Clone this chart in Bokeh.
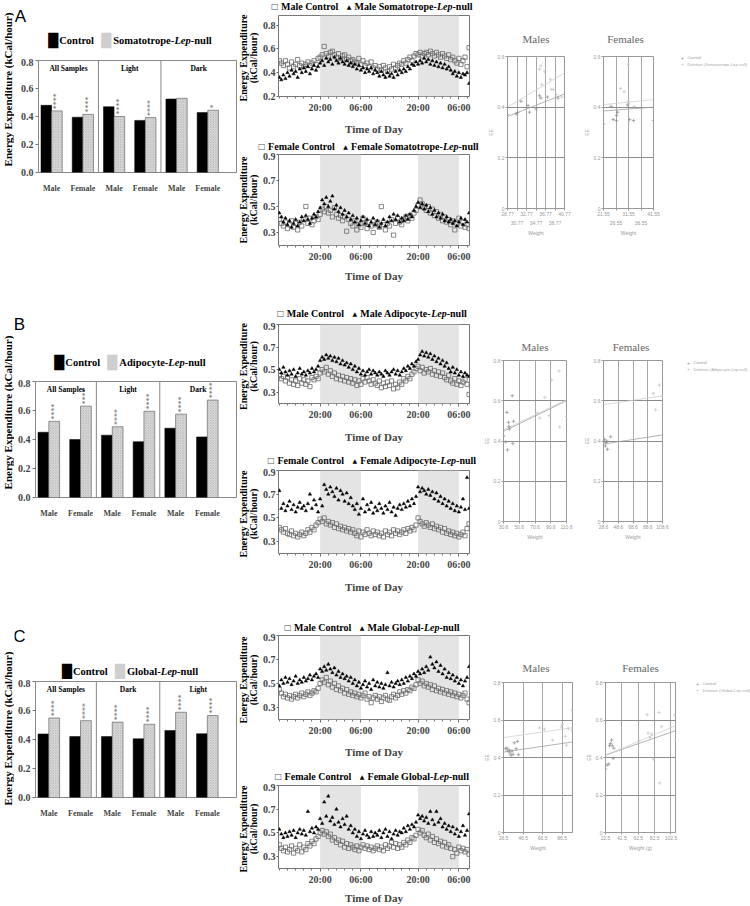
import numpy as np
from bokeh.plotting import figure
from bokeh.models import Label, FixedTicker, BoxAnnotation, Arrow, Range1d, LinearAxis
from bokeh.layouts import row, column
from bokeh.embed import file_html
from bokeh.resources import INLINE
from bokeh.core.properties import value

SERIF = "Liberation Serif"
SANS = "Liberation Sans"
SYM = "DejaVu Sans"

# ======================= DATA =======================
sexes = ["Male", "Female"]
bar_yticks = [0.0, 0.2, 0.4, 0.6, 0.8]
bar_ylabels = ["0.0", "0.2", "0.4", "0.6", "0.8"]

# bar order: [grp1-Male, grp1-Female, grp2-Male, grp2-Female, grp3-Male, grp3-Female]
groups_A = ["All Samples", "Light", "Dark"]
ctrl_A = [0.480, 0.395, 0.470, 0.372, 0.525, 0.428]
null_A = [0.440, 0.415, 0.400, 0.392, 0.530, 0.445]
stars_A = ["****", "****", "****", "****", "", "*"]

groups_B = ["All Samples", "Light", "Dark"]
ctrl_B = [0.450, 0.400, 0.430, 0.385, 0.478, 0.418]
null_B = [0.525, 0.630, 0.488, 0.595, 0.575, 0.672]
stars_B = ["****", "****", "****", "****", "****", "****"]

groups_C = ["All Samples", "Dark", "Light"]
ctrl_C = [0.438, 0.420, 0.420, 0.405, 0.462, 0.440]
null_C = [0.548, 0.530, 0.520, 0.505, 0.588, 0.565]
stars_C = ["****", "****", "****", "****", "****", "****"]

strain_A = "Somatotrope-"
strain_B = "Adipocyte-"
strain_C = "Global-"

# time axis (hours since midnight of day 1), half-hour bins from 10:00
time_ticks = [20, 30, 44, 54]
time_labels = ["20:00", "06:00", "20:00", "06:00"]
dark_periods = [(20, 30), (44, 54)]
ts_yticks_A1 = [0.2, 0.4, 0.6, 0.8]
ts_ylabels_A1 = ["0.2", "0.4", "0.6", "0.8"]
ts_yticks = [0.3, 0.5, 0.7, 0.9]
ts_ylabels = ["0.3", "0.5", "0.7", "0.9"]

A_male_ctrl = [0.50, 0.48, 0.46, 0.50, 0.47, 0.44, 0.49, 0.45, 0.47, 0.51, 0.46, 0.48,
               0.45, 0.47, 0.49, 0.46, 0.48, 0.50, 0.47, 0.52, 0.53, 0.55, 0.62, 0.56,
               0.54, 0.57, 0.58, 0.55, 0.53, 0.56, 0.52, 0.54, 0.55, 0.51, 0.53, 0.50,
               0.51, 0.49, 0.48, 0.52, 0.47, 0.50, 0.46, 0.48, 0.45, 0.49, 0.44, 0.46,
               0.43, 0.45, 0.42, 0.46, 0.44, 0.41, 0.45, 0.43, 0.47, 0.44, 0.46, 0.48,
               0.47, 0.50, 0.48, 0.51, 0.53, 0.50, 0.54, 0.56, 0.55, 0.57, 0.54, 0.56,
               0.57, 0.55, 0.58, 0.56, 0.54, 0.57, 0.55, 0.53, 0.56, 0.54, 0.52, 0.55,
               0.51, 0.53, 0.50, 0.48, 0.52, 0.47, 0.50, 0.53, 0.45, 0.61]
A_male_null = [0.36, 0.34, 0.38, 0.35, 0.40, 0.37, 0.42, 0.39, 0.41, 0.36, 0.43, 0.40,
               0.44, 0.41, 0.45, 0.39, 0.43, 0.46, 0.42, 0.45, 0.48, 0.50, 0.46, 0.52,
               0.49, 0.51, 0.47, 0.53, 0.50, 0.48, 0.52, 0.49, 0.47, 0.50, 0.46, 0.48,
               0.45, 0.47, 0.43, 0.46, 0.42, 0.44, 0.40, 0.43, 0.41, 0.44, 0.39, 0.42,
               0.40, 0.37, 0.41, 0.38, 0.36, 0.40, 0.37, 0.39, 0.36, 0.41, 0.38, 0.42,
               0.40, 0.43, 0.41, 0.45, 0.43, 0.47, 0.46, 0.49, 0.47, 0.50, 0.48, 0.52,
               0.49, 0.51, 0.47, 0.50, 0.46, 0.49, 0.45, 0.48, 0.44, 0.47, 0.43, 0.45,
               0.42, 0.39, 0.41, 0.37, 0.40, 0.36, 0.39, 0.38, 0.40, 0.31]
A_female_ctrl = [0.40, 0.37, 0.35, 0.38, 0.33, 0.36, 0.39, 0.34, 0.37, 0.32, 0.38, 0.35,
                 0.40, 0.50, 0.37, 0.41, 0.36, 0.39, 0.42, 0.40, 0.44, 0.48, 0.46, 0.50,
                 0.45, 0.47, 0.42, 0.49, 0.44, 0.41, 0.43, 0.39, 0.42, 0.31, 0.40, 0.37,
                 0.35, 0.39, 0.32, 0.36, 0.34, 0.41, 0.37, 0.33, 0.38, 0.35, 0.30, 0.36,
                 0.38, 0.34, 0.50, 0.36, 0.32, 0.37, 0.35, 0.40, 0.28, 0.37, 0.41, 0.38,
                 0.36, 0.40, 0.42, 0.39, 0.43, 0.41, 0.45, 0.47, 0.51, 0.55, 0.52, 0.49,
                 0.47, 0.50, 0.45, 0.48, 0.43, 0.46, 0.41, 0.44, 0.39, 0.42, 0.38, 0.40,
                 0.36, 0.39, 0.32, 0.37, 0.41, 0.35, 0.38, 0.34, 0.36, 0.33]
A_female_null = [0.45, 0.42, 0.38, 0.41, 0.36, 0.39, 0.34, 0.37, 0.40, 0.35, 0.38, 0.42,
                 0.39, 0.43, 0.40, 0.37, 0.41, 0.44, 0.42, 0.46, 0.49, 0.55, 0.52, 0.57,
                 0.50, 0.54, 0.58, 0.48, 0.51, 0.46, 0.49, 0.44, 0.47, 0.42, 0.45, 0.40,
                 0.43, 0.38, 0.41, 0.36, 0.39, 0.42, 0.37, 0.40, 0.35, 0.38, 0.41, 0.36,
                 0.39, 0.34, 0.37, 0.40, 0.35, 0.38, 0.42, 0.39, 0.44, 0.40, 0.43, 0.38,
                 0.41, 0.39, 0.43, 0.40, 0.44, 0.42, 0.47, 0.50, 0.53, 0.49, 0.52, 0.48,
                 0.51, 0.46, 0.49, 0.44, 0.47, 0.42, 0.45, 0.41, 0.44, 0.39, 0.42, 0.38,
                 0.40, 0.37, 0.39, 0.35, 0.38, 0.41, 0.36, 0.40, 0.38, 0.45]

B_male_ctrl = [0.45, 0.42, 0.44, 0.40, 0.43, 0.38, 0.41, 0.37, 0.40, 0.36, 0.42, 0.38,
               0.41, 0.37, 0.40, 0.35, 0.43, 0.41, 0.44, 0.42, 0.47, 0.50, 0.48, 0.52,
               0.46, 0.49, 0.44, 0.47, 0.42, 0.45, 0.41, 0.44, 0.40, 0.43, 0.39, 0.42,
               0.38, 0.41, 0.36, 0.40, 0.37, 0.42, 0.39, 0.43, 0.40, 0.37, 0.41, 0.38,
               0.36, 0.40, 0.34, 0.38, 0.35, 0.39, 0.36, 0.40, 0.33, 0.37, 0.34, 0.39,
               0.37, 0.42, 0.40, 0.44, 0.42, 0.46, 0.48, 0.51, 0.53, 0.49, 0.52, 0.47,
               0.50, 0.48, 0.51, 0.46, 0.49, 0.45, 0.48, 0.44, 0.47, 0.43, 0.41, 0.45,
               0.40, 0.38, 0.42, 0.37, 0.40, 0.36, 0.39, 0.41, 0.37, 0.28]
B_male_null = [0.50, 0.47, 0.52, 0.48, 0.45, 0.49, 0.46, 0.50, 0.44, 0.47, 0.51, 0.46,
               0.48, 0.45, 0.49, 0.47, 0.51, 0.48, 0.50, 0.53, 0.58, 0.61, 0.59, 0.63,
               0.60, 0.62, 0.58, 0.61, 0.57, 0.60, 0.55, 0.58, 0.54, 0.56, 0.52, 0.55,
               0.50, 0.53, 0.48, 0.51, 0.46, 0.49, 0.45, 0.48, 0.50, 0.46, 0.49, 0.47,
               0.45, 0.48, 0.46, 0.44, 0.49, 0.47, 0.45, 0.48, 0.50, 0.46, 0.49, 0.45,
               0.48, 0.51, 0.49, 0.53, 0.51, 0.55, 0.53, 0.57, 0.59, 0.63, 0.66, 0.62,
               0.65, 0.61, 0.64, 0.59, 0.62, 0.57, 0.60, 0.55, 0.58, 0.53, 0.56, 0.51,
               0.48, 0.52, 0.47, 0.50, 0.45, 0.48, 0.44, 0.47, 0.45, 0.44]
B_female_ctrl = [0.42, 0.40, 0.38, 0.41, 0.37, 0.36, 0.39, 0.35, 0.37, 0.34, 0.36, 0.38,
                 0.35, 0.37, 0.40, 0.38, 0.42, 0.40, 0.44, 0.46, 0.49, 0.47, 0.50, 0.45,
                 0.47, 0.44, 0.46, 0.42, 0.45, 0.41, 0.43, 0.40, 0.42, 0.39, 0.41, 0.38,
                 0.40, 0.37, 0.35, 0.39, 0.34, 0.38, 0.36, 0.40, 0.37, 0.35, 0.39, 0.36,
                 0.38, 0.35, 0.37, 0.34, 0.39, 0.36, 0.38, 0.35, 0.40, 0.37, 0.39, 0.36,
                 0.38, 0.40, 0.37, 0.41, 0.39, 0.42, 0.40, 0.44, 0.50, 0.47, 0.45, 0.43,
                 0.46, 0.44, 0.42, 0.45, 0.41, 0.43, 0.40, 0.42, 0.38, 0.41, 0.37, 0.39,
                 0.36, 0.38, 0.35, 0.37, 0.34, 0.36, 0.38, 0.35, 0.41, 0.45]
B_female_null = [0.73, 0.58, 0.62, 0.56, 0.60, 0.64, 0.57, 0.61, 0.55, 0.59, 0.63, 0.58,
                 0.60, 0.56, 0.62, 0.70, 0.58, 0.65, 0.61, 0.55, 0.66, 0.60, 0.78, 0.74,
                 0.70, 0.76, 0.72, 0.68, 0.75, 0.65, 0.73, 0.70, 0.64, 0.71, 0.62, 0.67,
                 0.60, 0.57, 0.62, 0.53, 0.58, 0.66, 0.55, 0.61, 0.57, 0.63, 0.54, 0.59,
                 0.56, 0.62, 0.58, 0.54, 0.60, 0.57, 0.63, 0.55, 0.59, 0.52, 0.58, 0.61,
                 0.57, 0.62, 0.59, 0.64, 0.60, 0.66, 0.62, 0.68, 0.76, 0.72, 0.75, 0.73,
                 0.70, 0.74, 0.69, 0.72, 0.66, 0.71, 0.64, 0.68, 0.62, 0.66, 0.60, 0.64,
                 0.58, 0.62, 0.56, 0.60, 0.55, 0.59, 0.66, 0.57, 0.84, 0.58]

C_male_ctrl = [0.45, 0.42, 0.39, 0.41, 0.38, 0.40, 0.37, 0.39, 0.41, 0.38, 0.40, 0.42,
               0.39, 0.41, 0.43, 0.40, 0.42, 0.44, 0.43, 0.46, 0.50, 0.53, 0.51, 0.55,
               0.49, 0.52, 0.47, 0.50, 0.45, 0.48, 0.44, 0.46, 0.42, 0.45, 0.41, 0.43,
               0.40, 0.42, 0.39, 0.41, 0.38, 0.40, 0.42, 0.37, 0.39, 0.34, 0.38, 0.40,
               0.37, 0.39, 0.35, 0.38, 0.40, 0.37, 0.36, 0.39, 0.41, 0.38, 0.40, 0.43,
               0.41, 0.44, 0.42, 0.45, 0.44, 0.47, 0.46, 0.49, 0.53, 0.50, 0.52, 0.48,
               0.50, 0.47, 0.49, 0.45, 0.48, 0.44, 0.46, 0.43, 0.45, 0.42, 0.44, 0.41,
               0.43, 0.40, 0.42, 0.39, 0.41, 0.38, 0.40, 0.42, 0.37, 0.34]
C_male_null = [0.48, 0.53, 0.50, 0.55, 0.51, 0.54, 0.49, 0.52, 0.56, 0.50, 0.53, 0.51,
               0.55, 0.52, 0.54, 0.57, 0.53, 0.56, 0.58, 0.55, 0.62, 0.60, 0.64, 0.61,
               0.66, 0.62, 0.59, 0.63, 0.57, 0.60, 0.55, 0.58, 0.54, 0.56, 0.52, 0.55,
               0.50, 0.53, 0.48, 0.51, 0.46, 0.49, 0.52, 0.47, 0.50, 0.45, 0.53, 0.48,
               0.51, 0.47, 0.50, 0.46, 0.49, 0.59, 0.48, 0.51, 0.47, 0.50, 0.52, 0.49,
               0.53, 0.50, 0.55, 0.52, 0.56, 0.54, 0.58, 0.56, 0.60, 0.58, 0.62, 0.59,
               0.64, 0.61, 0.72, 0.66, 0.63, 0.68, 0.60, 0.65, 0.58, 0.62, 0.55, 0.59,
               0.54, 0.57, 0.52, 0.55, 0.50, 0.53, 0.48, 0.52, 0.55, 0.64]
C_female_ctrl = [0.40, 0.37, 0.35, 0.38, 0.34, 0.36, 0.39, 0.33, 0.37, 0.35, 0.40, 0.34,
                 0.38, 0.36, 0.41, 0.39, 0.43, 0.41, 0.45, 0.47, 0.50, 0.52, 0.49, 0.51,
                 0.47, 0.49, 0.44, 0.46, 0.42, 0.44, 0.40, 0.43, 0.38, 0.41, 0.37, 0.40,
                 0.38, 0.36, 0.39, 0.35, 0.38, 0.40, 0.37, 0.39, 0.36, 0.38, 0.35, 0.37,
                 0.39, 0.36, 0.38, 0.35, 0.40, 0.37, 0.39, 0.42, 0.38, 0.41, 0.37, 0.40,
                 0.38, 0.42, 0.40, 0.44, 0.42, 0.46, 0.45, 0.48, 0.53, 0.50, 0.52, 0.48,
                 0.46, 0.49, 0.44, 0.47, 0.42, 0.45, 0.41, 0.43, 0.39, 0.42, 0.38, 0.40,
                 0.37, 0.30, 0.36, 0.33, 0.38, 0.35, 0.37, 0.34, 0.36, 0.32]
C_female_null = [0.53, 0.49, 0.46, 0.50, 0.47, 0.51, 0.48, 0.52, 0.46, 0.50, 0.53, 0.49,
                 0.52, 0.48, 0.68, 0.51, 0.54, 0.50, 0.55, 0.53, 0.62, 0.58, 0.76, 0.64,
                 0.81, 0.60, 0.63, 0.57, 0.70, 0.59, 0.55, 0.62, 0.57, 0.64, 0.53, 0.56,
                 0.50, 0.53, 0.47, 0.51, 0.45, 0.49, 0.52, 0.48, 0.46, 0.51, 0.47, 0.50,
                 0.48, 0.52, 0.46, 0.50, 0.53, 0.47, 0.51, 0.45, 0.49, 0.52, 0.48, 0.51,
                 0.50, 0.54, 0.51, 0.56, 0.53, 0.57, 0.55, 0.59, 0.65, 0.62, 0.64, 0.60,
                 0.63, 0.58, 0.68, 0.61, 0.57, 0.68, 0.59, 0.62, 0.55, 0.58, 0.53, 0.56,
                 0.51, 0.55, 0.49, 0.53, 0.47, 0.51, 0.56, 0.48, 0.52, 0.66]

# scatter (EE vs weight) panels
sc_yticks_A = [0.0, 0.2, 0.4, 0.6]
sc_ylabels_A = ["0", "0.2", "0.4", "0.6"]
sc_yticks = [0.0, 0.2, 0.4, 0.6, 0.8]
sc_ylabels = ["0", "0.2", "0.4", "0.6", "0.8"]

scA_M_xticks = [28.77, 30.77, 32.77, 34.77, 36.77, 38.77, 40.77]
scA_M_xlabels = ["28.77", "30.77", "32.77", "34.77", "36.77", "38.77", "40.77"]
scA_M_ctrl_w = [28.77, 30.6, 30.9, 31.6, 33.1, 33.4, 34.8, 35.5, 35.8, 37.2, 39.4]
scA_M_ctrl_ee = [0.371, 0.373, 0.378, 0.423, 0.406, 0.380, 0.393, 0.445, 0.436, 0.440, 0.436]
scA_M_del_w = [35.2, 35.5, 35.8, 36.0, 36.6, 37.8, 38.0, 38.4, 39.0, 40.2]
scA_M_del_ee = [0.600, 0.550, 0.563, 0.490, 0.540, 0.510, 0.470, 0.470, 0.450, 0.440]
scA_M_fit_ctrl = [0.363, 0.452]
scA_M_fit_del = [0.400, 0.535]

scA_F_xticks = [21.55, 26.55, 31.55, 36.55, 41.55]
scA_F_xlabels = ["21.55", "26.55", "31.55", "36.55", "41.55"]
scA_F_ctrl_w = [21.55, 24.6, 25.4, 26.7, 26.8, 27.2, 31.2, 32.0, 33.6, 41.55]
scA_F_ctrl_ee = [0.334, 0.403, 0.351, 0.347, 0.367, 0.380, 0.409, 0.351, 0.347, 0.347]
scA_F_del_w = [28.4, 29.8, 31.4, 31.4, 31.6, 33.8]
scA_F_del_ee = [0.474, 0.461, 0.570, 0.423, 0.415, 0.403]
scA_F_fit_ctrl = [0.385, 0.400]
scA_F_fit_del = [0.410, 0.430]

scB_M_xticks = [30.6, 50.6, 70.6, 90.6, 110.6]
scB_M_xlabels = ["30.6", "50.6", "70.6", "90.6", "110.6"]
scB_M_ctrl_w = [30.8, 33.4, 34.9, 35.7, 36.9, 37.4, 38.1, 41.7, 42.4, 43.3]
scB_M_ctrl_ee = [0.425, 0.395, 0.542, 0.356, 0.493, 0.473, 0.460, 0.625, 0.387, 0.498]
scB_M_del_w = [73.4, 76.6, 83.0, 88.6, 91.8, 101.2, 102.0, 110.6]
scB_M_del_ee = [0.539, 0.514, 0.617, 0.526, 0.702, 0.748, 0.470, 0.522]
scB_M_fit_ctrl = [0.448, 0.600]
scB_M_fit_del = [0.455, 0.605]

scB_F_xticks = [28.6, 48.6, 68.6, 88.6, 108.6]
scB_F_xlabels = ["28.6", "48.6", "68.6", "88.6", "108.6"]
scB_F_ctrl_w = [29.9, 31.0, 32.0, 33.0, 34.0, 38.4]
scB_F_ctrl_ee = [0.408, 0.375, 0.392, 0.400, 0.359, 0.421]
scB_F_del_w = [96.0, 99.3, 104.3, 108.6]
scB_F_del_ee = [0.637, 0.555, 0.678, 0.620]
scB_F_fit_ctrl = [0.385, 0.430]
scB_F_fit_del = [0.580, 0.625]

scC_M_xticks = [26.5, 46.5, 66.5, 86.5]
scC_M_xlabels = ["26.5", "46.5", "66.5", "86.5"]
scC_M_ctrl_w = [28.8, 30.0, 31.0, 32.5, 33.0, 34.2, 35.2, 36.2, 37.5, 39.4, 40.7, 41.7]
scC_M_ctrl_ee = [0.447, 0.450, 0.435, 0.440, 0.424, 0.412, 0.435, 0.417, 0.478, 0.447, 0.486, 0.415]
scC_M_del_w = [63.3, 68.2, 76.5, 85.9, 86.5, 89.7, 91.0, 92.6, 96.5, 96.5]
scC_M_del_ee = [0.558, 0.551, 0.492, 0.563, 0.577, 0.513, 0.465, 0.554, 0.652, 0.545]
scC_M_fit_ctrl = [0.429, 0.483]
scC_M_fit_del = [0.506, 0.559]

scC_F_xticks = [22.5, 42.5, 62.5, 82.5, 102.5]
scC_F_xlabels = ["22.5", "42.5", "62.5", "82.5", "102.5"]
scC_F_ctrl_w = [22.5, 24.5, 26.6, 27.4, 28.6, 29.8, 30.7, 31.9, 32.7]
scC_F_ctrl_ee = [0.339, 0.360, 0.365, 0.463, 0.475, 0.493, 0.463, 0.396, 0.450]
scC_F_del_w = [63.3, 73.5, 74.5, 76.8, 78.5, 80.9, 87.8, 88.6, 90.7, 107.4, 108.0]
scC_F_del_ee = [0.490, 0.628, 0.530, 0.507, 0.525, 0.392, 0.640, 0.264, 0.566, 0.626, 0.493]
scC_F_fit_ctrl = [0.413, 0.543]
scC_F_fit_del = [0.413, 0.569]

# ======================= HELPERS =======================
TB = {' ': 250, '(': 333, ')': 333, '-': 333, '/': 278, ':': 333, '.': 250,
      'A': 722, 'C': 722, 'D': 722, 'F': 611, 'G': 778, 'L': 667, 'M': 944, 'S': 556, 'T': 667,
      'a': 500, 'b': 556, 'c': 444, 'd': 556, 'e': 444, 'f': 333, 'g': 500, 'h': 556, 'i': 278,
      'k': 556, 'l': 278, 'm': 833, 'n': 556, 'o': 500, 'p': 556, 'r': 444, 's': 389, 't': 333,
      'u': 556, 'y': 500, 'x': 500}
TBI = {'L': 611, 'e': 444, 'p': 500}


def tw(s, size, italic=False):
    d = TBI if italic else TB
    return sum(d.get(c, TB.get(c, 500)) for c in s) * size / 1000.0


def add_text(p, x, y, text, size, font=SERIF, style="bold", color="black",
             align="left", baseline="middle", angle=0.0, y_offset=0):
    p.add_layout(Label(x=x, y=y, y_offset=y_offset, text=text, text_font=font,
                       text_font_size=f"{size}px", text_font_style=style, text_color=color,
                       text_align=align, text_baseline=baseline, angle=angle))


def place_parts(p, parts, cx, y, size, max_right=None):
    ws = []
    for pt in parts:
        k = pt[0]
        if k == "gap":
            ws.append(pt[1])
        elif k == "sym":
            ws.append(pt[4])
        elif k == "b":
            ws.append(tw(pt[1], size))
        else:
            ws.append(tw(pt[1], size, True))
    total = sum(ws)
    if max_right is not None:
        cx = min(cx, max_right - total / 2.0)
    x = cx - total / 2.0
    for pt, w in zip(parts, ws):
        k = pt[0]
        if k == "sym":
            add_text(p, x + w / 2.0, y, pt[1], pt[3], font=SYM, style="normal", color=pt[2], align="center")
        elif k == "b":
            add_text(p, x, y, pt[1], size)
        elif k == "bi":
            add_text(p, x, y, pt[1], size, style="bold italic")
        x += w


def strip(width, height):
    """A text-only canvas whose data coordinates are its pixels (origin top-left)."""
    p = figure(width=width, height=height, x_range=Range1d(0, width), y_range=Range1d(height, 0),
               output_backend="svg", toolbar_location=None, title=None, frame_align=False,
               x_axis_location=None, y_axis_location=None,
               min_border=0, min_border_left=0, min_border_right=0, min_border_top=0, min_border_bottom=0)
    p.grid.visible = False
    p.outline_line_color = None
    p.background_fill_color = "white"
    p.border_fill_color = "white"
    return p


def base_fig(width, height, xr, yr, bl, br, bt, bb):
    p = figure(width=width, height=height, x_range=Range1d(*xr), y_range=Range1d(*yr),
               output_backend="svg", toolbar_location=None, title=None, frame_align=False,
               min_border_left=bl, min_border_right=br, min_border_top=bt, min_border_bottom=bb)
    p.background_fill_color = "white"
    p.border_fill_color = "white"
    return p


# ---------- bar chart block (x 0..237) ----------
BAR_W = 237
BAR_YL = 14     # strip for the rotated y label


def bar_block(row_top, row_bot, fl, ft, fb, letter, letter_xy, ylab_cy, groups, ctrl, null, stars, strain, legend_y):
    yl = strip(BAR_YL, row_bot - row_top)
    add_text(yl, 7, ylab_cy - row_top, "Energy Expenditure (kCal/hour)", 11, align="center", angle=np.pi / 2)

    w = BAR_W - BAR_YL
    st_h = ft - 2 - row_top
    s = strip(w, st_h)
    add_text(s, letter_xy[0] - BAR_YL, letter_xy[1] - row_top, letter, 17, font=SANS, style="normal", align="center")
    parts = [("sym", "\u2588", "black", 13, 8), ("gap", 2), ("b", "Control"), ("gap", 8),
             ("sym", "\u2588", "#cfcfcf", 13, 8), ("gap", 3), ("b", strain), ("bi", "Lep"), ("b", "-null")]
    place_parts(s, parts, 130 - BAR_YL, legend_y - row_top, 10.5)

    h = row_bot - (ft - 2)
    p = base_fig(w, h, (-0.42, 5.92), (0, 0.8), fl - BAR_YL, BAR_W - 236, 2, row_bot - fb)
    p.grid.visible = False
    p.outline_line_color = "#888"
    idx = np.arange(len(ctrl))
    p.vbar(x=idx - 0.17, top=ctrl, width=0.34, fill_color="black", line_color="black", line_width=0.5)
    p.vbar(x=idx + 0.17, top=null, width=0.34, fill_color="#dedede", line_color="#555", line_width=0.6,
           hatch_pattern="diagonal_cross", hatch_color="#9a9a9a", hatch_scale=2.5, hatch_weight=0.4)
    p.text(x=idx + 0.17, y=np.array(null) + 0.012, text=stars, angle=np.pi / 2,
           text_font=value(SERIF), text_font_size="8px", text_baseline="middle", text_align="left",
           text_color="#555")
    for sx in (1.5, 3.5):
        p.add_layout(Arrow(end=None, x_start=sx, y_start=0.8, x_end=sx, y_end=-0.128,
                           line_color="#888", line_width=1))
    for gx, g in zip([0.54, 2.5, 4.71], groups):
        add_text(p, gx, 0.8, g, 7.5, align="center", y_offset=-8)
    xa = p.xaxis[0]
    xa.ticker = FixedTicker(ticks=[int(i) for i in idx])
    xa.major_label_overrides = {int(i): sexes[int(i) % 2] for i in idx}
    xa.axis_line_color = None
    xa.major_tick_line_color = None
    xa.minor_tick_line_color = None
    xa.major_label_text_font = SERIF
    xa.major_label_text_font_style = "bold"
    xa.major_label_text_font_size = "8px"
    xa.major_label_standoff = 5
    ya = p.yaxis[0]
    ya.ticker = FixedTicker(ticks=bar_yticks)
    ya.major_label_overrides = {t: l for t, l in zip(bar_yticks, bar_ylabels)}
    ya.axis_line_color = None
    ya.major_tick_out = 3
    ya.major_tick_in = 0
    ya.major_tick_line_color = "#777"
    ya.minor_tick_line_color = None
    ya.major_label_text_font = SERIF
    ya.major_label_text_font_style = "bold"
    ya.major_label_text_font_size = "10px"
    ya.major_label_standoff = 2
    return row(yl, column(s, p))


# ---------- time-series block (x 237..480) ----------
TS_W = 480 - BAR_W
YL_W = 22          # strip holding the two-line y label
FL_TS, FR_TS = 274, 469


def ts_pair(strip_top, ft, fb, fig_bot, ymax, yticks, ylabels, ctrl, null, sex, strain, legend_y, tod_off):
    s_bot = ft - 2
    s = strip(TS_W, s_bot - strip_top)
    ly = min(legend_y, s_bot - 6) - strip_top
    parts = [("sym", "\u25a1", "#555", 8, 6.5), ("gap", 3), ("b", f"{sex} Control"), ("gap", 8),
             ("sym", "\u25b2", "black", 6, 5), ("gap", 3), ("b", f"{sex} {strain}"), ("bi", "Lep"), ("b", "-null")]
    place_parts(s, parts, (FL_TS + FR_TS) / 2.0 - BAR_W, ly, 10, max_right=TS_W - 2)

    h = fig_bot - s_bot
    yl = strip(YL_W, h)
    cy = 2 + (fb - ft) / 2.0
    add_text(yl, 6, cy, "Energy Expenditure", 10, align="center", angle=np.pi / 2)
    add_text(yl, 16, cy, "(kCal/hour)", 10, align="center", angle=np.pi / 2)

    x0 = BAR_W + YL_W
    p = base_fig(480 - x0, h, (9.8, 56.6), (0.2, ymax), FL_TS - x0, 480 - FR_TS, 2, fig_bot - fb)
    p.grid.visible = False
    p.outline_line_color = "#777"
    for a, b in dark_periods:
        p.add_layout(BoxAnnotation(left=a, right=b, fill_color="#e4e4e4", fill_alpha=1.0,
                                   line_color=None, level="underlay"))
    hc = 10.0 + 0.5 * np.arange(len(ctrl))
    hn = 10.0 + 0.5 * np.arange(len(null))
    p.scatter(hc, ctrl, marker="square", size=4.2, fill_color=None, line_color="#6a6a6a", line_width=0.8)
    p.scatter(hn, null, marker="triangle", size=3.4, fill_color="black", line_color="black", line_width=0.5)
    xa = p.xaxis[0]
    xa.ticker = FixedTicker(ticks=time_ticks, minor_ticks=list(range(10, 57, 2)))
    xa.major_label_overrides = {t: l for t, l in zip(time_ticks, time_labels)}
    xa.axis_line_color = None
    xa.major_tick_out = 3
    xa.major_tick_in = 0
    xa.minor_tick_out = 2
    xa.minor_tick_in = 0
    xa.major_tick_line_color = "#666"
    xa.minor_tick_line_color = "#777"
    xa.major_label_text_font = SERIF
    xa.major_label_text_font_style = "bold"
    xa.major_label_text_font_size = "10px"
    xa.major_label_standoff = 2
    xa.axis_label = "Time of Day"
    xa.axis_label_text_font = SERIF
    xa.axis_label_text_font_style = "bold"
    xa.axis_label_text_font_size = "11px"
    xa.axis_label_standoff = tod_off
    ya = p.yaxis[0]
    ya.ticker = FixedTicker(ticks=yticks)
    ya.major_label_overrides = {t: l for t, l in zip(yticks, ylabels)}
    ya.axis_line_color = None
    ya.major_tick_out = 2
    ya.major_tick_in = 0
    ya.major_tick_line_color = "#666"
    ya.minor_tick_line_color = None
    ya.major_label_text_font = SERIF
    ya.major_label_text_font_style = "bold"
    ya.major_label_text_font_size = "10px"
    ya.major_label_standoff = 1
    return column(s, row(yl, p))


# ---------- scatter blocks ----------
def style_sc_axis(ax):
    ax.axis_line_color = "#999"
    ax.major_tick_line_color = "#999"
    ax.minor_tick_line_color = None
    ax.major_tick_out = 2
    ax.major_tick_in = 0
    ax.major_label_text_font = SANS
    ax.major_label_text_font_size = "5px"
    ax.major_label_text_color = "#9a9a9a"
    ax.major_label_standoff = 1
    ax.axis_label_text_font = SANS
    ax.axis_label_text_font_size = "5px"
    ax.axis_label_text_font_style = "normal"
    ax.axis_label_text_color = "#9a9a9a"
    ax.axis_label_standoff = 2


def scatter_block(left, width, row_top, row_bot, fl, fr, ft, fb, xr, xticks, xlabels, stagger,
                  ymax, yticks, ylabels, cw, ce, dw, de, fit_c, fit_d, title, title_y, xlabel):
    s = strip(width, ft - 2 - row_top)
    add_text(s, (fl + fr) / 2.0 - left, title_y - row_top, title, 11, style="normal", color="#666", align="center")
    h = row_bot - (ft - 2)
    p = base_fig(width, h, xr, (0, ymax), fl - left, left + width - fr, 2, row_bot - fb)
    p.outline_line_color = "#999"
    p.xgrid.ticker = FixedTicker(ticks=xticks)
    p.ygrid.ticker = FixedTicker(ticks=yticks)
    p.xgrid.grid_line_color = "#a8a8a8"
    p.ygrid.grid_line_color = "#8c8c8c"
    p.line(list(xr), fit_c, line_color="#a0a0a0", line_width=0.8)
    p.line(list(xr), fit_d, line_color="#d0d0d0", line_width=0.8)
    p.scatter(cw, ce, marker="cross", size=3.5, line_color="#8c8c8c", line_width=0.7)
    p.scatter(dw, de, marker="cross", size=3.5, line_color="#c4c4c4", line_width=0.7)
    xa = p.xaxis[0]
    xa.ticker = FixedTicker(ticks=xticks)
    style_sc_axis(xa)
    if stagger:
        xa.major_label_overrides = {t: (l if i % 2 == 0 else "") for i, (t, l) in enumerate(zip(xticks, xlabels))}
        ax2 = LinearAxis(ticker=FixedTicker(ticks=xticks))
        style_sc_axis(ax2)
        ax2.major_label_overrides = {t: (l if i % 2 == 1 else "") for i, (t, l) in enumerate(zip(xticks, xlabels))}
        ax2.axis_line_color = None
        ax2.major_tick_line_color = None
        ax2.major_label_standoff = 0
        p.add_layout(ax2, "below")
        ax2.axis_label = xlabel
    else:
        xa.major_label_overrides = {t: l for t, l in zip(xticks, xlabels)}
        xa.axis_label = xlabel
    ya = p.yaxis[0]
    ya.ticker = FixedTicker(ticks=yticks)
    style_sc_axis(ya)
    ya.major_label_overrides = {t: l for t, l in zip(yticks, ylabels)}
    ya.axis_label = "EE"
    ya.axis_label_standoff = 1
    return column(s, p)


def legend_strip(row_top, row_bot, mx, my, name):
    s = strip(750 - 680, row_bot - row_top)
    x = mx - 680
    y = my - row_top
    add_text(s, x, y, "+", 5, font=SANS, style="normal", color="#8c8c8c", align="center")
    add_text(s, x + 5, y, "Control", 4.2, font=SANS, style="normal", color="#9a9a9a")
    add_text(s, x, y + 6.5, "+", 5, font=SANS, style="normal", color="#c4c4c4", align="center")
    add_text(s, x + 5, y + 6.5, name, 4.2, font=SANS, style="normal", color="#aaaaaa")
    return s


# ======================= PANELS =======================
# ---- A (y 0..300) ----
barA = bar_block(0, 300, 38, 60, 172, "A", (20, 16), 89, groups_A, ctrl_A, null_A, stars_A, strain_A, 40)
tsA1 = ts_pair(0, 15, 100, 137, 0.88, ts_yticks_A1, ts_ylabels_A1, A_male_ctrl, A_male_null,
               "Male", strain_A, 6, 7)
tsA2 = ts_pair(137, 154, 245, 300, 0.9, ts_yticks, ts_ylabels, A_female_ctrl, A_female_null,
               "Female", strain_A, 147, 5)
scAM = scatter_block(480, 100, 0, 300, 507, 564, 56, 208, (28.77, 40.77), scA_M_xticks, scA_M_xlabels, True,
                     0.6, sc_yticks_A, sc_ylabels_A, scA_M_ctrl_w, scA_M_ctrl_ee, scA_M_del_w, scA_M_del_ee,
                     scA_M_fit_ctrl, scA_M_fit_del, "Males", 38, "Weight")
scAF = scatter_block(580, 100, 0, 300, 597, 653, 56, 208, (21.55, 41.55), scA_F_xticks, scA_F_xlabels, True,
                     0.6, sc_yticks_A, sc_ylabels_A, scA_F_ctrl_w, scA_F_ctrl_ee, scA_F_del_w, scA_F_del_ee,
                     scA_F_fit_ctrl, scA_F_fit_del, "Females", 38, "Weight")
lgA = legend_strip(0, 300, 682, 57, "Deletion (Somatotrope-Lep-null)")

# ---- B (y 300..595) ----
barB = bar_block(300, 595, 35, 381, 497, "B", (19, 324), 412, groups_B, ctrl_B, null_B, stars_B, strain_B, 362)
tsB1 = ts_pair(300, 324, 408, 445, 0.9, ts_yticks, ts_ylabels, B_male_ctrl, B_male_null,
               "Male", strain_B, 313, 8)
tsB2 = ts_pair(445, 470, 557, 595, 0.9, ts_yticks, ts_ylabels, B_female_ctrl, B_female_null,
               "Female", strain_B, 460, 8)
scBM = scatter_block(480, 100, 300, 595, 503, 566, 360, 521, (30.6, 110.6), scB_M_xticks, scB_M_xlabels, False,
                     0.8, sc_yticks, sc_ylabels, scB_M_ctrl_w, scB_M_ctrl_ee, scB_M_del_w, scB_M_del_ee,
                     scB_M_fit_ctrl, scB_M_fit_del, "Males", 346, "Weight")
scBF = scatter_block(580, 100, 300, 595, 599, 662, 360, 521, (28.6, 108.6), scB_F_xticks, scB_F_xlabels, False,
                     0.8, sc_yticks, sc_ylabels, scB_F_ctrl_w, scB_F_ctrl_ee, scB_F_del_w, scB_F_del_ee,
                     scB_F_fit_ctrl, scB_F_fit_del, "Females", 346, "Weight")
lgB = legend_strip(300, 595, 688, 362, "Deletion (Adipocyte-Lep-null)")

# ---- C (y 595..906) ----
barC = bar_block(595, 906, 35, 681, 797, "C", (19, 636), 728, groups_C, ctrl_C, null_C, stars_C, strain_C, 671)
tsC1 = ts_pair(595, 635, 724, 760, 0.9, ts_yticks, ts_ylabels, C_male_ctrl, C_male_null,
               "Male", strain_C, 628, 7)
tsC2 = ts_pair(760, 785, 872, 906, 0.9, ts_yticks, ts_ylabels, C_female_ctrl, C_female_null,
               "Female", strain_C, 776, 4)
scCM = scatter_block(480, 100, 595, 906, 499, 572, 682, 832, (26.5, 97.0), scC_M_xticks, scC_M_xlabels, False,
                     0.8, sc_yticks, sc_ylabels, scC_M_ctrl_w, scC_M_ctrl_ee, scC_M_del_w, scC_M_del_ee,
                     scC_M_fit_ctrl, scC_M_fit_del, "Males", 667, "Weight")
scCF = scatter_block(580, 100, 595, 906, 605, 675, 682, 832, (22.5, 108.0), scC_F_xticks, scC_F_xlabels, False,
                     0.8, sc_yticks, sc_ylabels, scC_F_ctrl_w, scC_F_ctrl_ee, scC_F_del_w, scC_F_del_ee,
                     scC_F_fit_ctrl, scC_F_fit_del, "Females", 667, "Weight (g)")
lgC = legend_strip(595, 906, 697, 683, "Deletion (Global-Lep-null)")

layout = column(
    row(barA, column(tsA1, tsA2), scAM, scAF, lgA),
    row(barB, column(tsB1, tsB2), scBM, scBF, lgB),
    row(barC, column(tsC1, tsC2), scCM, scCF, lgC),
)

open("out.html", "w").write(file_html(layout, INLINE))
